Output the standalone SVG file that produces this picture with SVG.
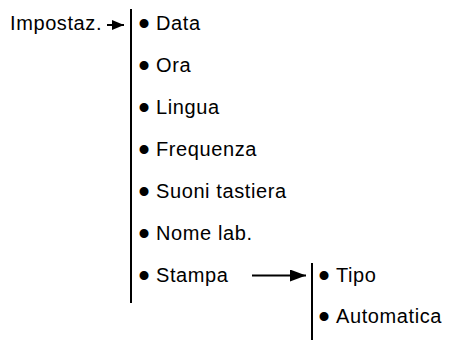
<svg xmlns="http://www.w3.org/2000/svg" width="454" height="340" viewBox="0 0 454 340">
<style>
text{font-family:"Liberation Sans",Arial,sans-serif;font-size:20px;fill:#000}
.t{letter-spacing:0.6px}
.b{font-size:33px;text-anchor:middle}
.ln{stroke:#000;stroke-width:2;fill:none}
</style>
<defs>
<marker id="ah1" markerWidth="12" markerHeight="10" refX="12" refY="5" orient="auto" markerUnits="userSpaceOnUse">
<path d="M0,0 L12,5 L0,10 Z" fill="#000"/>
</marker>
<marker id="ah2" markerWidth="16" markerHeight="12" refX="16" refY="6" orient="auto" markerUnits="userSpaceOnUse">
<path d="M0,0 L16,6 L0,12 Z" fill="#000"/>
</marker>
</defs>
<rect width="454" height="340" fill="#fff"/>
<g id="connectors">
<line class="ln" x1="107" y1="25" x2="124" y2="25" marker-end="url(#ah1)"/>
<line class="ln" x1="131" y1="9" x2="131" y2="303"/>
<line class="ln" x1="252" y1="275.5" x2="306" y2="275.5" marker-end="url(#ah2)"/>
<line class="ln" x1="312" y1="263" x2="312" y2="340"/>
</g>
<g id="impostaz"><text class="t" x="10" y="30">Impostaz.</text></g>
<g id="menu1">
<text y="30"><tspan class="b" x="144" dy="5">•</tspan><tspan class="t" x="156" dy="-5">Data</tspan></text>
<text y="72"><tspan class="b" x="144" dy="5">•</tspan><tspan class="t" x="156" dy="-5">Ora</tspan></text>
<text y="114"><tspan class="b" x="144" dy="5">•</tspan><tspan class="t" x="156" dy="-5">Lingua</tspan></text>
<text y="156"><tspan class="b" x="144" dy="5">•</tspan><tspan class="t" x="156" dy="-5">Frequenza</tspan></text>
<text y="198"><tspan class="b" x="144" dy="5">•</tspan><tspan class="t" x="156" dy="-5">Suoni tastiera</tspan></text>
<text y="240"><tspan class="b" x="144" dy="5">•</tspan><tspan class="t" x="156" dy="-5">Nome lab.</tspan></text>
<text y="282"><tspan class="b" x="144" dy="5">•</tspan><tspan class="t" x="156" dy="-5">Stampa</tspan></text>
</g>
<g id="menu2">
<text y="282"><tspan class="b" x="324" dy="5">•</tspan><tspan class="t" x="336" dy="-5">Tipo</tspan></text>
<text y="323"><tspan class="b" x="324" dy="5">•</tspan><tspan class="t" x="336" dy="-5">Automatica</tspan></text>
</g>
</svg>
